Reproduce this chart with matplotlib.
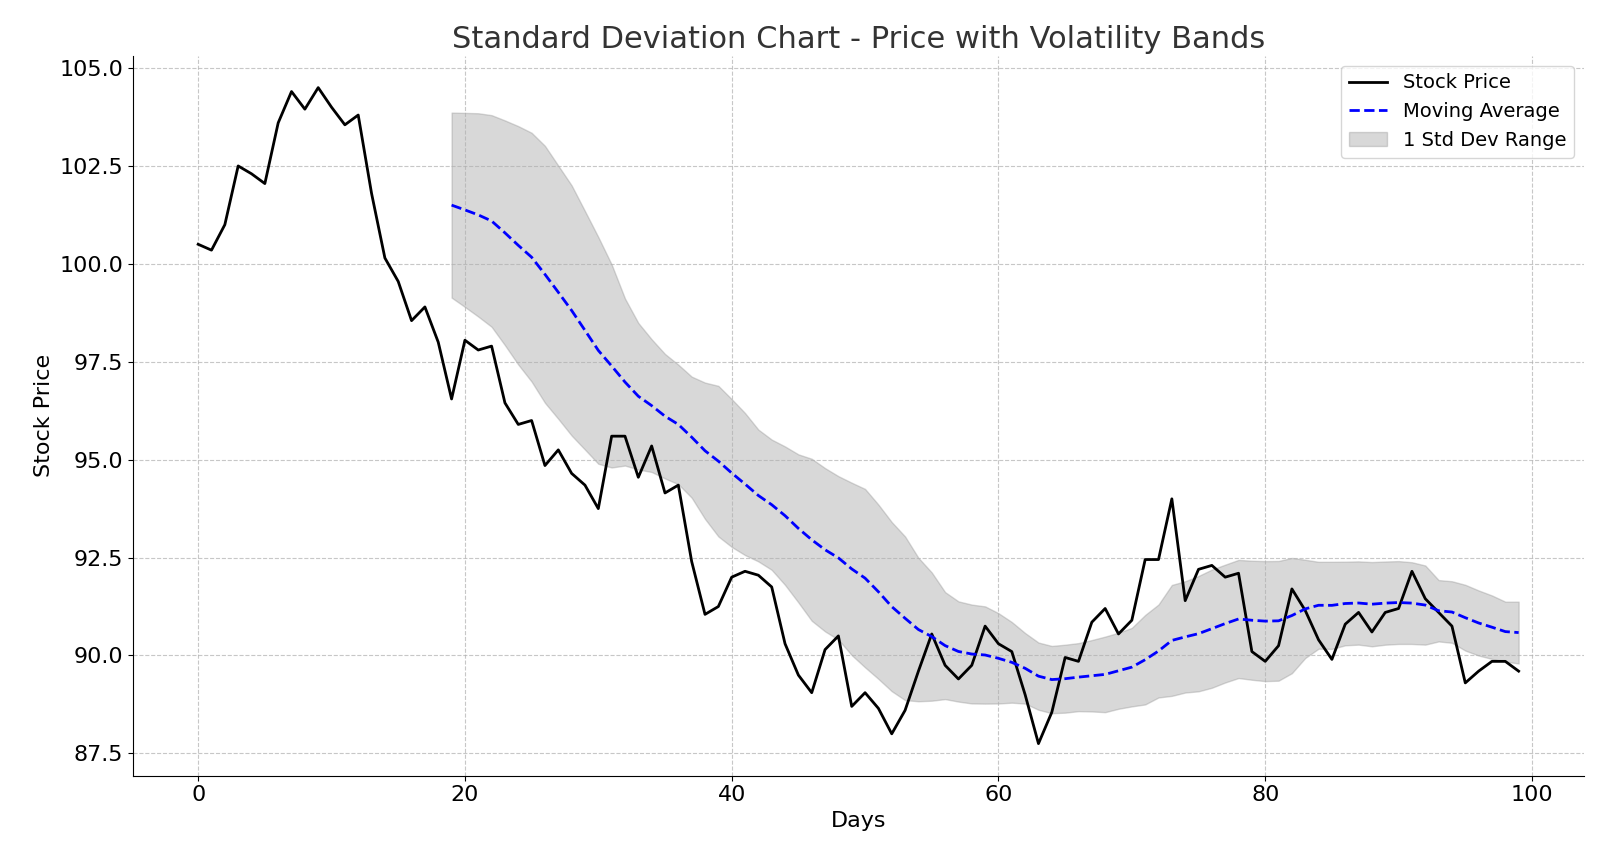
import numpy as np
import pandas as pd
import matplotlib
matplotlib.use('Agg')
import matplotlib.pyplot as plt

days = np.arange(100)
price = [100.5, 100.35, 101.0, 102.5, 102.3, 102.05, 103.6, 104.4, 103.95, 104.5,
         104.0, 103.55, 103.8, 101.8, 100.15, 99.55, 98.55, 98.9, 98.0, 96.55,
         98.05, 97.8, 97.9, 96.45, 95.9, 96.0, 94.85, 95.25, 94.65, 94.35,
         93.75, 95.6, 95.6, 94.55, 95.35, 94.15, 94.35, 92.4, 91.05, 91.25,
         92.0, 92.15, 92.05, 91.75, 90.3, 89.5, 89.05, 90.15, 90.5, 88.7,
         89.05, 88.65, 88.0, 88.6, 89.6, 90.55, 89.75, 89.4, 89.75, 90.75,
         90.3, 90.1, 89.0, 87.75, 88.55, 89.95, 89.85, 90.85, 91.2, 90.55,
         90.9, 92.45, 92.45, 94.0, 91.4, 92.2, 92.3, 92.0, 92.1, 90.1,
         89.85, 90.25, 91.7, 91.15, 90.4, 89.9, 90.8, 91.1, 90.6, 91.1,
         91.2, 92.15, 91.45, 91.1, 90.75, 89.3, 89.6, 89.85, 89.85, 89.6]

s = pd.Series(price)
ma = s.rolling(20).mean()
sd = s.rolling(20).std()

fig, ax = plt.subplots(figsize=(16, 8.6), dpi=100)
ax.plot(days, price, color='black', linewidth=2, label='Stock Price')
ax.plot(days, ma, color='blue', linestyle='--', linewidth=2, label='Moving Average')
ax.fill_between(days, ma - sd, ma + sd, color='gray', alpha=0.3, label='1 Std Dev Range')
ax.set_title('Standard Deviation Chart - Price with Volatility Bands', fontsize=22, color='#333333')
ax.set_xlabel('Days', fontsize=16)
ax.set_ylabel('Stock Price', fontsize=16)
ax.tick_params(labelsize=16)
ax.set_yticks(np.arange(87.5, 105.1, 2.5))
ax.set_ylim(86.93, 105.31)
ax.set_xlim(-4.9, 103.9)
ax.grid(True, linestyle='--', alpha=0.7)
ax.spines['top'].set_visible(False)
ax.spines['right'].set_visible(False)
ax.legend(loc='upper right', fontsize=14)
fig.subplots_adjust(left=0.083, right=0.99, top=0.935, bottom=0.098)
plt.savefig('out.png')
